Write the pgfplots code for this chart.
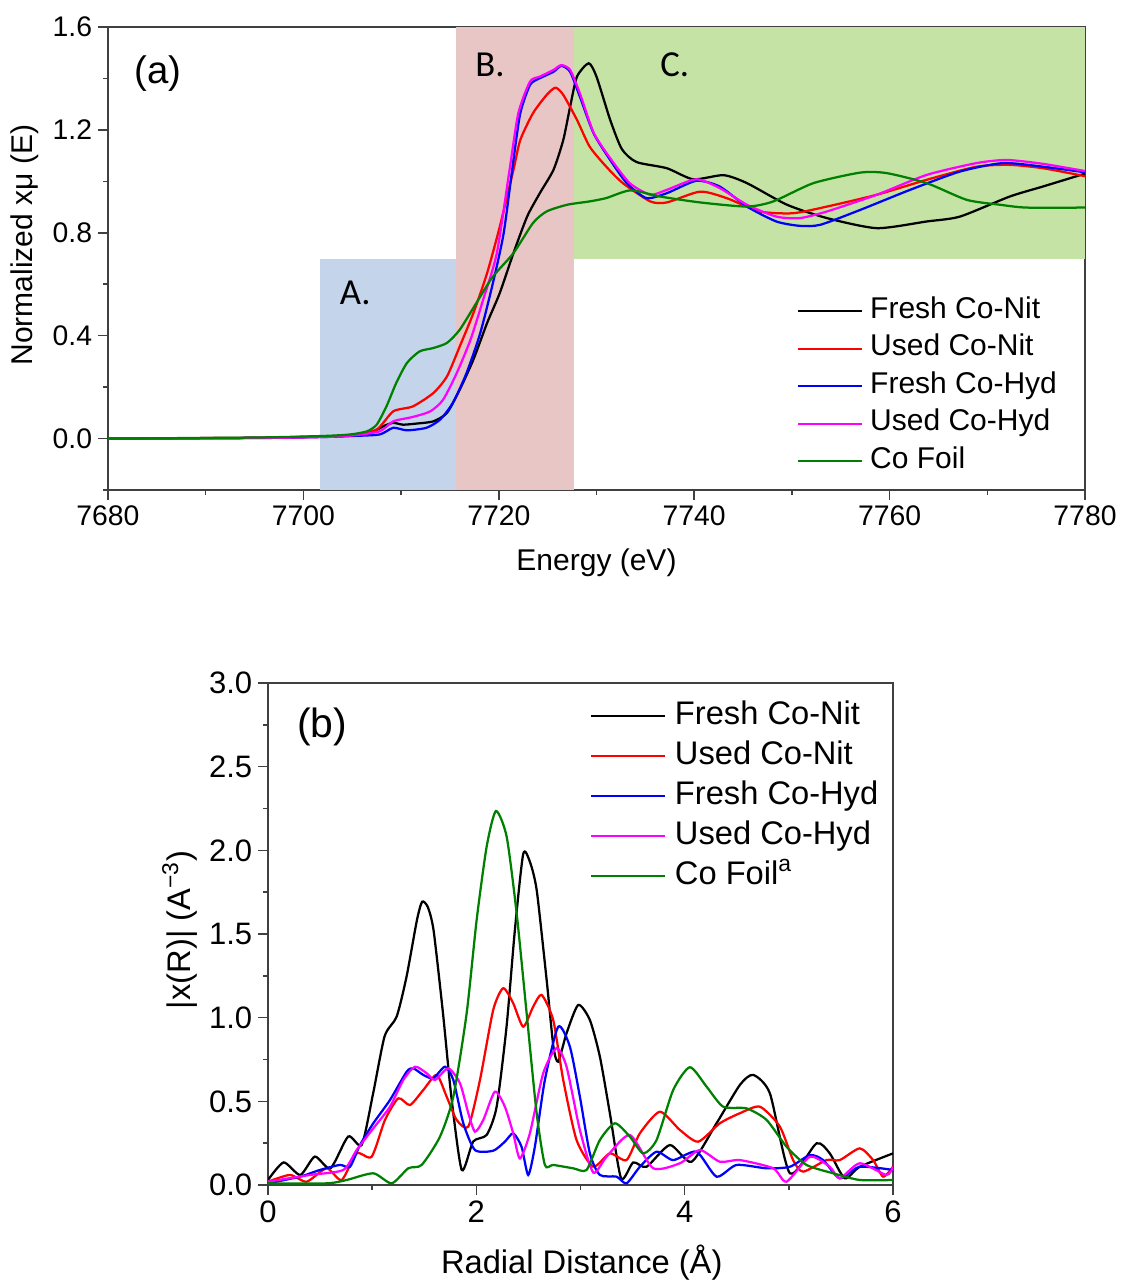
\documentclass[border=0pt]{standalone}
\usepackage{pgfplots}
\pgfplotsset{compat=1.18}
\usepackage{fontspec}
\setmainfont{Liberation Sans}
\newfontfamily\carlito{Carlito}
\definecolor{regA}{HTML}{C4D5EB}
\definecolor{regB}{HTML}{E7C6C5}
\definecolor{regC}{HTML}{C6E3A6}
\definecolor{cgreen}{HTML}{008000}
\definecolor{cmag}{HTML}{FF00FF}
\definecolor{cred}{HTML}{FF0000}
\definecolor{cblue}{HTML}{0000FF}
\definecolor{axcol}{HTML}{404040}
\pgfplotsset{
  common/.style={
    scale only axis,
    axis line style={axcol, line width=0.9pt},
    tick style={axcol, line width=0.9pt},
    major tick length=6pt, minor tick length=3pt,
    tick align=outside,
    xtick pos=bottom, ytick pos=left,
    /pgf/number format/assume math mode=true,
    /pgf/number format/1000 sep={},
    legend cell align=left,
    every axis plot/.append style={line width=1.35pt, smooth, tension=0.4},
  },
}
\begin{document}
\begin{tikzpicture}
\useasboundingbox (0,0) rectangle (672.6pt,-768.6pt);
% ---------------- Panel (a) ----------------
\begin{axis}[common,
  at={(64.8pt,-294pt)}, anchor=south west,
  width=586.2pt, height=277.8pt,
  xmin=7680, xmax=7780, ymin=-0.2, ymax=1.6,
  xtick={7680,7700,...,7780}, minor xtick={7690,7710,...,7770},
  ytick={0,0.4,0.8,1.2,1.6}, minor ytick={-0.2,0.2,0.6,1.0,1.4},
  yticklabel style={/pgf/number format/fixed,/pgf/number format/fixed zerofill,/pgf/number format/precision=1},
  tick label style={font=\fontsize{17}{17}\selectfont},
  xlabel={Energy (eV)}, ylabel={Normalized xμ (E)},
  label style={font=\fontsize{18}{18}\selectfont},
  xlabel style={at={(axis description cs:0.5,-0.158)}, anchor=center},
  ylabel style={at={(axis description cs:-0.085,0.529)}, anchor=center, rotate=0},
  legend style={at={(0.705,0.419)}, anchor=north west, draw=none, fill=white, inner sep=0pt,
    font=\fontsize{18}{18}\selectfont, row sep=4.5pt, column sep=4.5pt,
    nodes={inner sep=0pt, text height=13pt, text depth=5pt}},
  legend image code/.code={\draw[#1] (0pt,0pt) -- (38pt,0pt);},
]
\fill[regA] (axis cs:7701.7,-0.2) rectangle (axis cs:7715.6,0.7);
\fill[regB] (axis cs:7715.6,-0.2) rectangle (axis cs:7727.7,1.6);
\fill[regC] (axis cs:7727.7,0.7) rectangle (axis cs:7780,1.6);
\node[font=\fontsize{23}{23}\selectfont] at (axis cs:7685.1,1.42) {(a)};
\node[font=\carlito\fontsize{22}{22}\selectfont] at (axis cs:7705.3,0.567) {A.};
\node[font=\carlito\fontsize{22}{22}\selectfont] at (axis cs:7719.1,1.452) {B.};
\node[font=\carlito\fontsize{22}{22}\selectfont] at (axis cs:7738.0,1.452) {C.};
\addplot[black] coordinates {
(7680,0) (7695,0.003) (7702,0.008) (7705,0.012) (7707,0.025) (7708.3,0.05) (7709.2,0.061)
(7710.2,0.054) (7711.5,0.058) (7713.3,0.067) (7714.7,0.10) (7716.0,0.19) (7717.4,0.307)
(7718.8,0.449) (7720.1,0.566) (7721.5,0.721) (7722.9,0.863) (7724.2,0.954) (7725.6,1.045)
(7726.6,1.161) (7727.3,1.29) (7728.0,1.407) (7729.2,1.459) (7730.0,1.407) (7731.4,1.239)
(7732.6,1.125) (7734.1,1.075) (7737.2,1.051) (7739.9,1.008) (7743.0,1.024) (7745.4,0.993)
(7749.5,0.909) (7753.6,0.857) (7758.7,0.818) (7763.8,0.844) (7767.2,0.863) (7772.3,0.941)
(7775.7,0.980) (7780,1.03)};
\addlegendentry{Fresh Co-Nit}
\addplot[cred] coordinates {
(7680,0) (7695,0.003) (7702,0.008) (7705,0.015) (7707.5,0.035) (7709.2,0.106) (7711.2,0.125)
(7713.3,0.177) (7714.7,0.242) (7716.0,0.358) (7717.4,0.488) (7718.8,0.643) (7720.1,0.824)
(7721.5,1.045) (7722.2,1.161) (7723.5,1.265) (7724.9,1.336) (7725.8,1.364) (7726.6,1.336)
(7728.0,1.239) (7729.3,1.135) (7731.0,1.057) (7732.7,0.993) (7735.5,0.922) (7737.2,0.918)
(7740.6,0.960) (7743.3,0.935) (7746.7,0.883) (7750.1,0.876) (7753.6,0.902) (7758.7,0.948)
(7763.8,1.006) (7768.9,1.057) (7772.3,1.064) (7775.7,1.051) (7780,1.02)};
\addlegendentry{Used Co-Nit}
\addplot[cblue] coordinates {
(7680,0) (7695,0.002) (7702,0.006) (7705,0.010) (7707.8,0.016) (7709.2,0.042) (7710.6,0.032)
(7712.6,0.042) (7714.0,0.074) (7715.3,0.139) (7716.7,0.255) (7718.1,0.41) (7719.4,0.605)
(7720.5,0.799) (7721.5,1.083) (7722.2,1.265) (7723.2,1.375) (7724.2,1.401) (7725.6,1.426)
(7726.4,1.449) (7727.3,1.426) (7728.3,1.329) (7729.7,1.187) (7731.4,1.083) (7733.1,0.993)
(7735.1,0.935) (7737.2,0.954) (7740.2,1.002) (7742.6,0.980) (7745.4,0.902) (7748.4,0.844)
(7750.8,0.827) (7752.9,0.831) (7757.0,0.889) (7762.1,0.967) (7767.2,1.038) (7771.6,1.071)
(7775.7,1.057) (7780,1.035)};
\addlegendentry{Fresh Co-Hyd}
\addplot[cmag] coordinates {
(7680,0) (7695,0.002) (7702,0.006) (7705,0.012) (7707.8,0.028) (7709.2,0.067) (7711.2,0.084)
(7713.0,0.106) (7714.3,0.151) (7715.7,0.255) (7717.1,0.384) (7718.4,0.54) (7719.8,0.721)
(7721.1,1.045) (7722.0,1.265) (7723.2,1.388) (7724.2,1.407) (7725.6,1.433) (7726.4,1.452)
(7727.3,1.433) (7728.3,1.342) (7729.7,1.19) (7731.4,1.09) (7733.4,0.993) (7735.5,0.948)
(7737.2,0.967) (7740.2,1.008) (7742.6,0.974) (7745.4,0.909) (7748.4,0.863) (7750.8,0.857)
(7753.6,0.883) (7758.7,0.948) (7763.8,1.025) (7768.9,1.071) (7772.0,1.083) (7775.7,1.068)
(7780,1.04)};
\addlegendentry{Used Co-Hyd}
\addplot[cgreen] coordinates {
(7680,0) (7695,0.004) (7702,0.010) (7704.8,0.016) (7706.5,0.028) (7707.5,0.054) (7708.5,0.125)
(7709.5,0.216) (7710.6,0.294) (7711.9,0.339) (7713.3,0.352) (7714.7,0.372) (7716.0,0.423)
(7717.7,0.527) (7719.4,0.63) (7721.5,0.721) (7723.5,0.838) (7724.9,0.883) (7727.0,0.909)
(7729.3,0.922) (7731.0,0.935) (7733.5,0.965) (7736.5,0.941) (7740.6,0.918) (7745.4,0.902)
(7748.1,0.922) (7752.2,0.993) (7757.0,1.034) (7759.7,1.032) (7763.8,0.993) (7767.9,0.928)
(7771.3,0.909) (7774.0,0.898) (7780,0.898)};
\addlegendentry{Co Foil}
\end{axis}
% ---------------- Panel (b) ----------------
\begin{axis}[common,
  at={(160.8pt,-711pt)}, anchor=south west,
  width=375pt, height=301.2pt,
  xmin=0, xmax=6, ymin=0, ymax=3,
  xtick={0,2,4,6}, minor xtick={1,3,5},
  ytick={0,0.5,...,3}, minor ytick={0.25,0.75,...,2.75},
  yticklabel style={/pgf/number format/fixed,/pgf/number format/fixed zerofill,/pgf/number format/precision=1},
  tick label style={font=\fontsize{18.6}{18.6}\selectfont},
  xlabel={Radial Distance (Å)}, ylabel={|x(R)| (A\textsuperscript{−3})},
  label style={font=\fontsize{19.6}{19.6}\selectfont},
  xlabel style={at={(axis description cs:0.502,-0.155)}, anchor=center},
  ylabel style={at={(axis description cs:-0.141,0.508)}, anchor=center, rotate=0},
  legend style={at={(0.515,0.968)}, anchor=north west, draw=none, fill=white, inner sep=0pt,
    font=\fontsize{19.6}{19.6}\selectfont, row sep=4pt, column sep=5.5pt,
    nodes={inner sep=0pt, text height=15pt, text depth=5pt}},
  legend image code/.code={\draw[#1] (0pt,0pt) -- (44pt,0pt);},
]
\node[font=\fontsize{24.5}{24.5}\selectfont] at (axis cs:0.518,2.738) {(b)};
\addplot[black] coordinates {
(0.0,0.03) (0.15,0.135) (0.31,0.06) (0.45,0.17) (0.6,0.10) (0.77,0.29) (0.9,0.24) (1.01,0.55)
(1.12,0.89) (1.235,1.006) (1.33,1.245) (1.43,1.584) (1.48,1.693) (1.535,1.66) (1.59,1.52) (1.68,1.026)
(1.76,0.528) (1.86,0.09) (1.97,0.26) (2.10,0.30) (2.195,0.468) (2.29,0.946) (2.37,1.524)
(2.45,1.978) (2.515,1.93) (2.58,1.76) (2.675,1.225) (2.74,0.827) (2.786,0.737) (2.866,0.907) (2.978,1.076)
(3.09,0.986) (3.186,0.767) (3.282,0.429) (3.39,0.04) (3.506,0.135) (3.634,0.109) (3.858,0.239)
(4.066,0.139) (4.306,0.369) (4.530,0.598) (4.658,0.658) (4.818,0.548) (5.010,0.07) (5.266,0.249)
(5.393,0.189) (5.537,0.04) (5.681,0.109) (6.0,0.189)};
\addlegendentry{Fresh Co-Nit}
\addplot[cred] coordinates {
(0.0,0.02) (0.211,0.06) (0.371,0.02) (0.563,0.10) (0.707,0.03) (0.851,0.189) (0.995,0.169)
(1.123,0.389) (1.251,0.518) (1.363,0.478) (1.491,0.568) (1.619,0.658) (1.715,0.528) (1.811,0.389)
(1.923,0.349) (2.035,0.628) (2.162,1.046) (2.258,1.176) (2.354,1.086) (2.450,0.946) (2.546,1.066)
(2.627,1.136) (2.738,0.986) (2.834,0.628) (2.962,0.269) (3.122,0.11) (3.282,0.189) (3.442,0.149)
(3.570,0.309) (3.762,0.438) (3.954,0.329) (4.130,0.259) (4.338,0.369) (4.530,0.429) (4.722,0.468)
(4.914,0.349) (5.041,0.149) (5.137,0.08) (5.362,0.149) (5.489,0.149) (5.681,0.219) (5.809,0.149)
(5.905,0.05) (6.0,0.109)};
\addlegendentry{Used Co-Nit}
\addplot[cblue] coordinates {
(0.0,0.01) (0.307,0.05) (0.499,0.09) (0.691,0.12) (0.787,0.109) (0.883,0.239) (1.011,0.369)
(1.171,0.508) (1.331,0.677) (1.395,0.697) (1.491,0.658) (1.587,0.638) (1.699,0.707) (1.779,0.628)
(1.875,0.369) (1.987,0.209) (2.162,0.205) (2.274,0.259) (2.354,0.309) (2.434,0.229) (2.498,0.06)
(2.562,0.229) (2.658,0.628) (2.786,0.946) (2.898,0.827) (2.994,0.528) (3.09,0.189) (3.186,0.06)
(3.346,0.05) (3.442,0.01) (3.570,0.109) (3.730,0.199) (3.890,0.149) (4.114,0.199) (4.306,0.05)
(4.498,0.12) (4.786,0.10) (5.010,0.109) (5.202,0.179) (5.330,0.149) (5.489,0.04) (5.681,0.109)
(6.0,0.09)};
\addlegendentry{Fresh Co-Hyd}
\addplot[cmag] coordinates {
(0.0,0.02) (0.403,0.06) (0.723,0.09) (0.851,0.209) (1.011,0.339) (1.171,0.468) (1.299,0.628)
(1.411,0.707) (1.523,0.668) (1.603,0.628) (1.731,0.697) (1.843,0.608) (1.923,0.429) (1.987,0.319)
(2.067,0.389) (2.178,0.558) (2.274,0.468) (2.354,0.309) (2.418,0.159) (2.514,0.309) (2.642,0.668)
(2.770,0.818) (2.866,0.707) (2.994,0.329) (3.122,0.075) (3.250,0.169) (3.474,0.299) (3.698,0.10)
(3.954,0.13) (4.146,0.209) (4.338,0.139) (4.530,0.149) (4.850,0.10) (4.978,0.02) (5.202,0.169)
(5.393,0.109) (5.489,0.04) (5.681,0.13) (5.937,0.06) (6.0,0.109)};
\addlegendentry{Used Co-Hyd}
\addplot[cgreen] coordinates {
(0.0,0.01) (0.563,0.01) (0.755,0.03) (1.011,0.07) (1.187,0.01) (1.347,0.10) (1.475,0.12)
(1.651,0.289) (1.779,0.528) (1.907,1.026) (2.003,1.584) (2.099,2.022) (2.188,2.235) (2.291,2.082)
(2.387,1.624) (2.483,1.026) (2.579,0.429) (2.658,0.12) (2.738,0.12) (2.930,0.10) (3.058,0.09)
(3.186,0.269) (3.330,0.369) (3.474,0.289) (3.602,0.189) (3.730,0.269) (3.890,0.568) (4.050,0.704)
(4.210,0.588) (4.370,0.468) (4.594,0.458) (4.786,0.389) (4.978,0.229) (5.170,0.12) (5.426,0.07)
(5.681,0.03) (6.0,0.03)};
\addlegendentry{Co Foil\textsuperscript{a}}
\end{axis}
\end{tikzpicture}
\end{document}
